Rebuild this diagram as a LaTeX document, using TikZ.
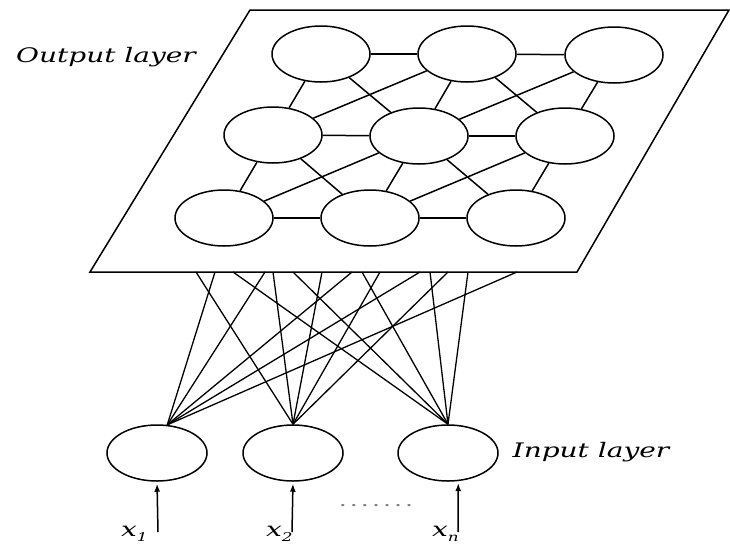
\documentclass[tikz,border=0pt]{standalone}
\usepackage{fontspec}
\newfontfamily\labfont[FakeStretch=1.4]{DejaVu Serif}
\usetikzlibrary{shapes.geometric,arrows.meta}
\begin{document}
\begin{tikzpicture}[x=1pt,y=-1pt,
  neuron/.style={draw, ellipse, line width=1.5pt, minimum width=98pt, minimum height=56pt, inner sep=0pt, fill=white},
  inneuron/.style={neuron, minimum width=100pt, minimum height=56pt},
  link/.style={line width=1.5pt},
  fanline/.style={line width=1.3pt},
  plane/.style={line width=1.5pt, fill=white},
  lab/.style={font=\labfont\itshape\fontsize{20}{24}\selectfont, inner sep=0pt},
  sublab/.style={font=\labfont\itshape\fontsize{20}{24}\selectfont, inner sep=0pt, anchor=base west},
  inarrow/.style={line width=1.5pt, -{Latex[length=8pt,width=6pt]}, shorten >=2pt}]
\useasboundingbox (0,0) rectangle (730,546);
% plane
\coordinate (p1) at (250,10);
\coordinate (p2) at (729,10);
\coordinate (p3) at (577,272);
\coordinate (p4) at (90,272);
\draw[plane] (p1) -- (p2) -- (p3) -- (p4) -- cycle;
% output neurons
\node[neuron] (o11) at (321,54) {};
\node[neuron] (o12) at (467,54) {};
\node[neuron] (o13) at (614,55) {};
\node[neuron] (o21) at (273,135) {};
\node[neuron] (o22) at (419,136) {};
\node[neuron] (o23) at (565,136) {};
\node[neuron] (o31) at (224,218) {};
\node[neuron] (o32) at (370,218) {};
\node[neuron] (o33) at (516,218) {};
% output links
\foreach \r in {1,2,3}{
  \draw[link] (o\r1) -- (o\r2);
  \draw[link] (o\r2) -- (o\r3);
}
\foreach \r/\s in {1/2,2/3}{
  \foreach \i in {1,2,3}{ \draw[link] (o\r\i) -- (o\s\i); }
  \foreach \i/\j in {1/2,2/3}{
    \draw[link] (o\r\i) -- (o\s\j);
    \draw[link] (o\s\i) -- (o\r\j);
  }
}
\node[lab] (outlab) at (106,57) {Output layer};
% input neurons
\node[inneuron] (in1) at (157,453) {};
\node[inneuron] (in2) at (293,453) {};
\node[inneuron] (in3) at (448,453) {};
\node[lab] (inlab) at (591,452) {Input layer};
% fan points
\coordinate (f1) at (in1.70);
\coordinate (f2) at (in2.north);
\coordinate (f3) at (in3.north);
% edge points on the plane border
\foreach \x in {196,215,233,265,273,293,322,352,362,380,420,430,448,468,517}{
  \coordinate (e\x) at (\x,272);
}
\foreach \x in {215,265,352,420,517}{ \draw[fanline] (f1) -- (e\x); }
\foreach \x in {196,273,322,380,448}{ \draw[fanline] (f2) -- (e\x); }
\foreach \x in {233,293,362,430,468}{ \draw[fanline] (f3) -- (e\x); }
% input labels and arrows
\node[sublab] (x1) at (121,536) {x\raisebox{-5pt}{\fontsize{12}{12}\selectfont 1}};
\node[sublab] (x2) at (266,536) {x\raisebox{-5pt}{\fontsize{12}{12}\selectfont 2}};
\node[sublab] (xn) at (432,536) {x\raisebox{-5pt}{\fontsize{12}{12}\selectfont n}};
\coordinate (a1) at (158,532);
\coordinate (a2) at (292,532);
\coordinate (a3) at (458,532);
\draw[inarrow] (a1) -- (in1.south);
\draw[inarrow] (a2) -- (in2.south);
\draw[inarrow] (a3) -- (in3.-70);
\node[font=\labfont\fontsize{18}{20}\selectfont, text=gray, inner sep=0pt] (dots) at (376,506) {.\,.\,.\,.\,.\,.\,.};
\end{tikzpicture}
\end{document}
